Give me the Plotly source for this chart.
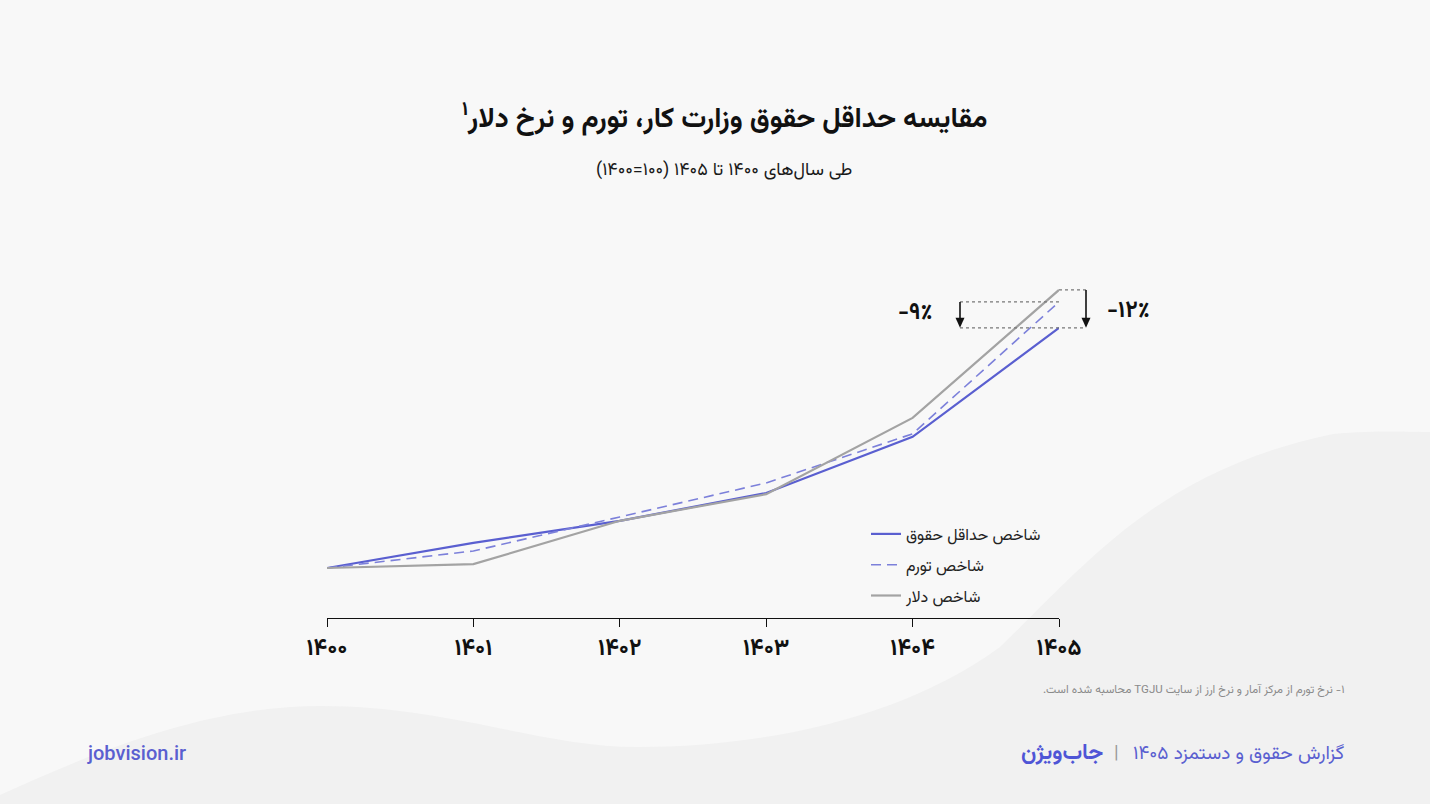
import plotly.graph_objects as go

# ---------------- data ----------------
years = [1400, 1401, 1402, 1403, 1404, 1405]
year_labels = ["۱۴۰۰", "۱۴۰۱", "۱۴۰۲", "۱۴۰۳", "۱۴۰۴", "۱۴۰۵"]
salary_index = [100, 165, 222, 294, 439, 721]
inflation_index = [100, 144, 232, 320, 447, 788]
dollar_index = [100, 110, 222, 291, 488, 819]
series_names = ["شاخص حداقل حقوق", "شاخص تورم", "شاخص دلار"]
gap_labels = ["-۹٪", "-۱۲٪"]

RLE, PDF = "\u202b", "\u202c"
title_text = RLE + "مقایسه حداقل حقوق وزارت کار، تورم و نرخ دلار<sup>۱</sup>" + PDF
subtitle_text = RLE + "طی سال‌های ۱۴۰۰ تا ۱۴۰۵ (۱۰۰=۱۴۰۰)" + PDF
footnote_text = RLE + "۱- نرخ تورم از مرکز آمار و نرخ ارز از سایت TGJU محاسبه شده است." + PDF
report_text = RLE + "گزارش حقوق و دستمزد ۱۴۰۵" + PDF
brand_text = "جاب‌ویژن"
site_text = "jobvision.ir"

# ---------------- layout geometry ----------------
W, H = 1430, 804
L, R, T, B = 327, 371, 250, 186
PW, PH = W - L - R, H - T - B
XR = [1400, 1405]
YR = [-29.3, 922.3]

def px(xp):
    return (xp - L) / PW

def py(yp):
    return (H - B - yp) / PH

def dx(v):
    return (v - XR[0]) / (XR[1] - XR[0])

def dy(v):
    return (v - YR[0]) / (YR[1] - YR[0])

FONT = "Vazirmatn, 'Noto Sans Arabic', 'DejaVu Sans', sans-serif"
BLUE = "#5a5fd0"

fig = go.Figure()
fig.add_trace(go.Scatter(x=years, y=salary_index, mode="lines", name=series_names[0],
                         line=dict(color=BLUE, width=2.2), legendgroup="a"))
fig.add_trace(go.Scatter(x=years, y=inflation_index, mode="lines", name=series_names[1],
                         line=dict(color="#7c80da", width=1.6, dash="10px,6px"), legendgroup="b"))
fig.add_trace(go.Scatter(x=years, y=dollar_index, mode="lines", name=series_names[2],
                         line=dict(color="#a3a3a3", width=2.2), legendgroup="c"))

# background wave
wave_path = (
    f"M {px(0)},{py(804)} L {px(0)},{py(795)} "
    f"C {px(120)},{py(740)} {px(220)},{py(706)} {px(321)},{py(706)} "
    f"C {px(450)},{py(706)} {px(540)},{py(747)} {px(638)},{py(747)} "
    f"C {px(760)},{py(747)} {px(900)},{py(720)} {px(1000)},{py(647)} "
    f"C {px(1090)},{py(560)} {px(1160)},{py(470)} {px(1333)},{py(434)} "
    f"C {px(1380)},{py(430)} {px(1410)},{py(432)} {px(1430)},{py(432)} "
    f"L {px(1430)},{py(804)} Z"
)
shapes = [dict(type="path", xref="paper", yref="paper", path=wave_path,
               fillcolor="#f1f1f1", line=dict(width=0), layer="below")]

# dotted guide lines for gaps
dot = dict(color="#777777", width=1.2, dash="dot")
x_left = px(960)
x_right = px(1086)
shapes += [
    dict(type="line", xref="paper", yref="paper", x0=dx(years[-1]), x1=x_right,
         y0=dy(dollar_index[-1]), y1=dy(dollar_index[-1]), line=dot),
    dict(type="line", xref="paper", yref="paper", x0=x_left, x1=dx(years[-1]),
         y0=dy(inflation_index[-1]), y1=dy(inflation_index[-1]), line=dot),
    dict(type="line", xref="paper", yref="paper", x0=x_left, x1=x_right,
         y0=dy(salary_index[-1]), y1=dy(salary_index[-1]), line=dot),
]

# arrows (shaft + head) drawn as shapes
hw, hh = 4.5 / PW, 10 / PH
for xa, top in [(x_left, inflation_index[-1]), (x_right, dollar_index[-1])]:
    yb = dy(salary_index[-1])
    shapes.append(dict(type="line", xref="paper", yref="paper", x0=xa, x1=xa,
                       y0=dy(top), y1=yb + hh * 0.5, line=dict(color="#111111", width=1.6)))
    shapes.append(dict(type="path", xref="paper", yref="paper",
                       path=f"M {xa - hw},{yb + hh} L {xa + hw},{yb + hh} L {xa},{yb} Z",
                       fillcolor="#111111", line=dict(width=0)))

def ann(x, y, text, size, color="#111111", weight="normal", xanchor="center", family=FONT):
    return dict(xref="paper", yref="paper", x=x, y=y, text=text, showarrow=False,
                xanchor=xanchor, yanchor="middle",
                font=dict(size=size, color=color, family=family, weight=weight))

annotations = [
    ann(px(915), py(313), gap_labels[0], 23, weight="bold"),
    ann(px(1128), py(311), gap_labels[1], 23, weight="bold"),
    ann(px(724), py(118), title_text, 28, weight="bold"),
    ann(px(724), py(171), subtitle_text, 18, color="#1a1a1a"),
    ann(px(1347), py(690), footnote_text, 11.5, color="#8a8a8a", xanchor="right"),
    ann(px(85), py(753), site_text, 20, color=BLUE, weight=500, xanchor="left", family="Roboto"),
    ann(px(1105), py(753), brand_text, 22, color="#4f55d6", weight="bold", xanchor="right"),
    ann(px(1116), py(753), "|", 19, color="#9a9a9a"),
    ann(px(1346), py(754), report_text, 19, color=BLUE, xanchor="right"),
]

fig.update_layout(
    width=W, height=H,
    margin=dict(l=L, r=R, t=T, b=B, pad=0),
    paper_bgcolor="#f8f8f8", plot_bgcolor="rgba(0,0,0,0)",
    font=dict(family=FONT, color="#111111"),
    showlegend=True,
    legend=dict(x=px(866), y=py(517), xanchor="left", yanchor="top",
                bgcolor="rgba(0,0,0,0)", font=dict(size=16, color="#222222", family=FONT),
                tracegroupgap=7, traceorder="grouped"),
    shapes=shapes, annotations=annotations,
    xaxis=dict(range=XR, tickmode="array", tickvals=years, ticktext=year_labels,
               showgrid=False, zeroline=False, showline=True, linecolor="#111111", linewidth=1,
               ticks="outside", ticklen=8, tickcolor="#111111", tickwidth=1,
               tickfont=dict(size=23, color="#111111", family=FONT, weight="bold"),
               ticklabelstandoff=0),
    yaxis=dict(range=YR, visible=False, showgrid=False, zeroline=False),
)

fig.write_html("out.html", config={"displayModeBar": False},
               post_script="document.body.style.margin='0';document.body.style.background='#f8f8f8';")
